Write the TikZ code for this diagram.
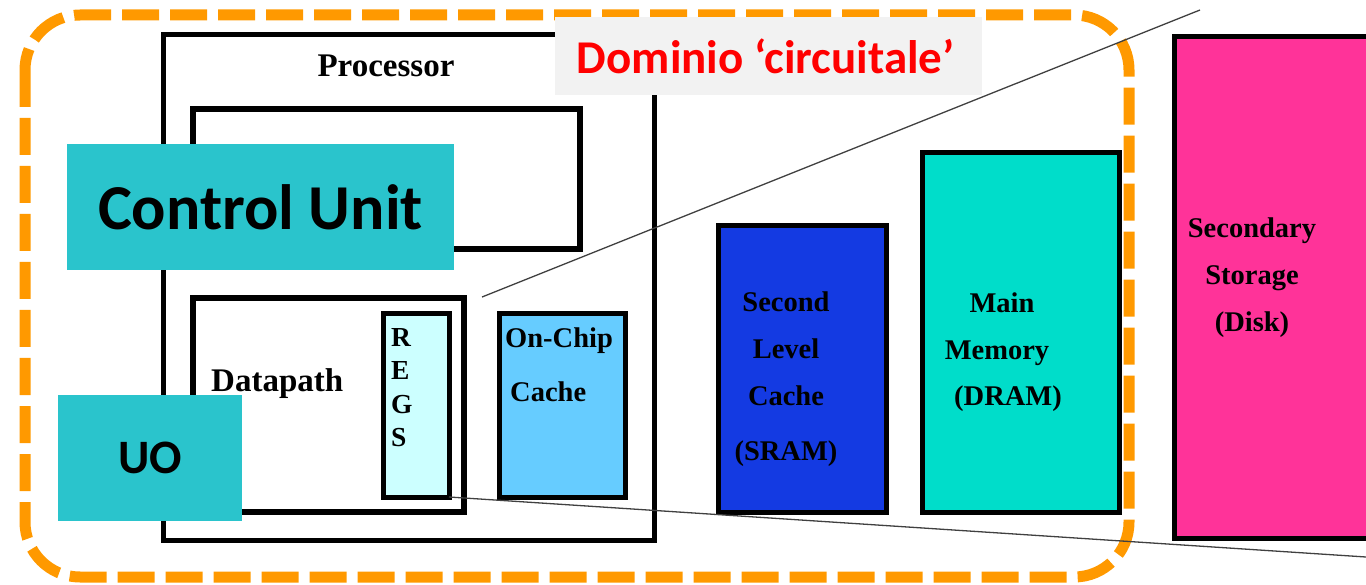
\documentclass[tikz,border=0pt]{standalone}
\usepackage{fontspec}
\setmainfont{Liberation Serif}
\newfontfamily\calibri{Carlito}
\usepackage{tikz}

\definecolor{tagteal}{RGB}{42,196,204}
\definecolor{regsfill}{RGB}{204,255,255}
\definecolor{chipfill}{RGB}{102,204,255}
\definecolor{sramfill}{RGB}{20,58,226}
\definecolor{dramfill}{RGB}{0,221,202}
\definecolor{diskfill}{RGB}{255,51,153}
\definecolor{frameorange}{RGB}{255,153,0}
\definecolor{labelgray}{RGB}{242,242,242}

\tikzset{
  box/.style={draw, line width=5pt, inner sep=0pt, outer sep=0pt, anchor=north west},
  tag/.style={fill=tagteal, inner sep=0pt, outer sep=0pt, anchor=north west, font=\calibri\bfseries},
  lbl/.style={inner sep=0pt, font=\bfseries},
  zoomline/.style={line width=1.3pt, black!75},
}

\begin{document}
\begin{tikzpicture}[x=1pt, y=-1pt]
\useasboundingbox (0,0) rectangle (1366,585);
\clip (0,0) rectangle (1366,585);
%%   kw   (name)   (x, y)   {text}
    \draw[line width=11pt, frameorange, dash pattern=on 37pt off 11pt, rounded corners=55pt] (25,15) rectangle (1129,577);

    \node[box, minimum width=491pt, minimum height=505pt] (proc) at (163,35) {};
    \node[box, line width=6pt, minimum width=387pt, minimum height=140pt] (ctrl) at (193,109) {};
    \node[box, line width=6pt, minimum width=271pt, minimum height=214pt] (dp) at (193,298) {};
    \node[box, fill=regsfill, minimum width=66pt, minimum height=183pt] (regs) at (383,314) {};
    \node[box, fill=chipfill, minimum width=126pt, minimum height=183pt] (chip) at (499,314) {};
    \node[box, fill=sramfill, minimum width=168pt, minimum height=286pt] (sram) at (718,226) {};
    \node[box, fill=dramfill, minimum width=197pt, minimum height=359pt] (dram) at (922,153) {};
    \node[box, fill=diskfill, minimum width=220pt, minimum height=501pt] (disk) at (1174,37) {};

    \node[lbl, anchor=north, font=\bfseries\fontsize{33}{33}\selectfont] (proctxt) at (386,55) {Processor};
    \node[lbl, anchor=north west, font=\bfseries\fontsize{33}{33}\selectfont] (dptxt) at (211,368) {Datapath};
    \node[lbl, anchor=north west, align=left, font=\bfseries\fontsize{27.5}{33.5}\selectfont] (regstxt) at (391,328) {R\\E\\G\\S};
    \node[lbl, anchor=north west, align=left, font=\bfseries\fontsize{28.5}{54}\selectfont] (chiptxt) at (505,328) {On-Chip\\\hspace*{5pt}Cache};
    \node[lbl, anchor=north, align=center, font=\bfseries\fontsize{28.5}{47}\selectfont] (sramtxt) at (786,292) {Second\\Level\\Cache\\[8pt](SRAM)};
    \node[lbl, anchor=north, align=center, font=\bfseries\fontsize{28.5}{46.5}\selectfont] (dramtxt) at (1002,293) {Main\\\hspace*{-10pt}Memory\\\hspace*{12pt}(DRAM)};
    \node[lbl, anchor=north, align=center, font=\bfseries\fontsize{28.5}{47}\selectfont] (disktxt) at (1252,218) {Secondary\\Storage\\(Disk)};

    \node[fill=labelgray, inner sep=0pt, anchor=north west, minimum width=427pt, minimum height=78pt, text=red, font=\calibri\bfseries\fontsize{47}{47}\selectfont] (domain) at (555,17) {Dominio ‘circuitale’\hspace*{6pt}};

    \coordinate (topend) at (1200,10);
    \coordinate (botend) at (1366,557);
    \draw[zoomline] ([xshift=18pt,yshift=1pt]dp.north east) -- (topend);
    \draw[zoomline] (regs.south east) -- (botend);

    \node[tag, minimum width=387pt, minimum height=126pt, font=\calibri\bfseries\fontsize{64}{64}\selectfont] (cu) at (67,144) {Control Unit};
    \node[tag, minimum width=184pt, minimum height=126pt, font=\calibri\bfseries\fontsize{48}{48}\selectfont] (uo) at (58,395) {UO};
\end{tikzpicture}
\end{document}
